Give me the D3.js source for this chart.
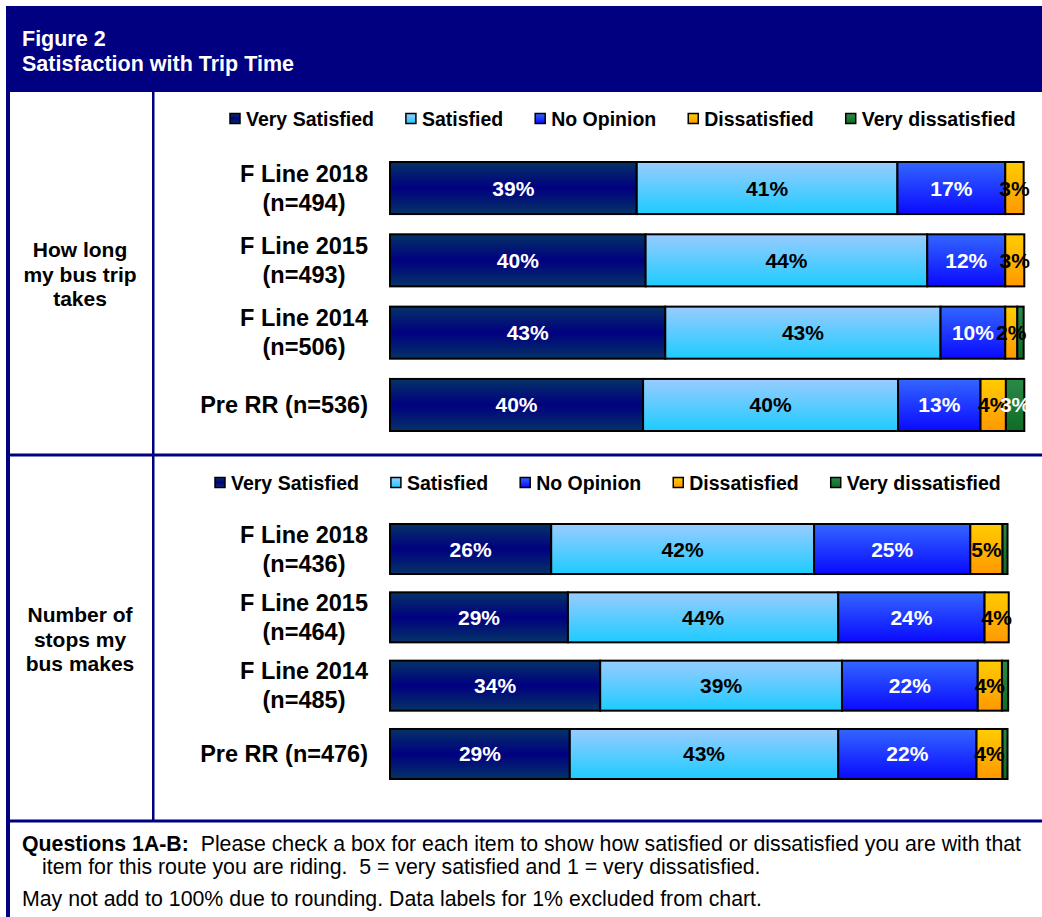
<!DOCTYPE html>
<html>
<head>
<meta charset="utf-8">
<script src="https://cdn.jsdelivr.net/npm/d3@7"></script>
<style>
  body { margin: 0; background: #fff; }
  text { font-family: Arial, "Liberation Sans", sans-serif; }
</style>
</head>
<body>
<script>
var svgWidth = 1042;
var svgHeight = 917;

// series (legend order)
var seriesNames = ["Very Satisfied", "Satisfied", "No Opinion", "Dissatisfied", "Very dissatisfied"];

// panel 1: how long my bus trip takes
var tripRows = [["F Line 2018", "(n=494)"], ["F Line 2015", "(n=493)"], ["F Line 2014", "(n=506)"], ["Pre RR (n=536)"]];
var tripVerySat    = [38.9, 40.3, 43.4, 39.9];
var tripSat        = [41.1, 44.4, 43.4, 40.2];
var tripNoOpinion  = [17.0, 12.3, 10.2, 13.0];
var tripDissat     = [2.9, 3.0, 1.9, 4.0];
var tripVeryDissat = [0, 0, 1.0, 2.9];

// panel 2: number of stops my bus makes
var stopRows = [["F Line 2018", "(n=436)"], ["F Line 2015", "(n=464)"], ["F Line 2014", "(n=485)"], ["Pre RR (n=476)"]];
var stopVerySat    = [26.0, 28.7, 33.9, 29.0];
var stopSat        = [42.4, 43.6, 39.0, 43.3];
var stopNoOpinion  = [25.2, 23.6, 21.9, 22.3];
var stopDissat     = [5.2, 3.9, 3.9, 4.2];
var stopVeryDissat = [0.8, 0, 1.0, 0.8];

var navy = "#000080";

var svg = d3.select("body").append("svg")
    .attr("width", svgWidth)
    .attr("height", svgHeight);

// gradients for the bar fills
var grads = [
  { id: "g0", stops: [["0%", "#053366"], ["50%", "#000080"], ["100%", "#053366"]], label: "#fff" },
  { id: "g1", stops: [["0%", "#99ccff"], ["100%", "#1ecbff"]], label: "#000" },
  { id: "g2", stops: [["0%", "#3366ff"], ["100%", "#0a0aff"]], label: "#fff" },
  { id: "g3", stops: [["0%", "#ffcc00"], ["100%", "#ff9900"]], label: "#000" },
  { id: "g4", stops: [["0%", "#2a8a48"], ["100%", "#0f6b25"]], label: "#fff" }
];
var defs = svg.append("defs");
grads.forEach(function(g){
  var lg = defs.append("linearGradient").attr("id", g.id)
      .attr("x1", 0).attr("y1", 0).attr("x2", 0).attr("y2", 1);
  g.stops.forEach(function(s){
    lg.append("stop").attr("offset", s[0]).attr("stop-color", s[1]);
  });
});

// header band
svg.append("rect").attr("x", 6).attr("y", 6).attr("width", svgWidth - 6).attr("height", 86).attr("fill", navy);
svg.append("text").attr("x", 22).attr("y", 46).attr("fill", "#fff")
   .attr("font-size", "21.5px").attr("font-weight", "bold").text("Figure 2");
svg.append("text").attr("x", 22).attr("y", 71).attr("fill", "#fff")
   .attr("font-size", "21.5px").attr("font-weight", "bold").text("Satisfaction with Trip Time");

// table rules
svg.append("rect").attr("x", 6).attr("y", 6).attr("width", 4).attr("height", svgHeight - 6).attr("fill", navy);
svg.append("rect").attr("x", 152).attr("y", 92).attr("width", 2.5).attr("height", 730).attr("fill", navy);
svg.append("rect").attr("x", 6).attr("y", 453.5).attr("width", svgWidth - 6).attr("height", 3).attr("fill", navy);
svg.append("rect").attr("x", 6).attr("y", 819.5).attr("width", svgWidth - 6).attr("height", 3).attr("fill", navy);

function drawPanel(opts) {
  var rows = opts.rows;
  var table = rows.map(function(r, i){
    return { key: i, vals: opts.series.map(function(s){ return s[i]; }) };
  });

  var xscale = d3.scaleLinear().domain([0, 100]).range([390, opts.xEnd]);
  var yscale = d3.scaleBand().domain(d3.range(rows.length))
      .range(opts.yRange).paddingInner(opts.pad).paddingOuter(0);

  // row-side question label
  var q = svg.append("text").attr("text-anchor", "middle")
     .attr("font-size", "21px").attr("font-weight", "bold");
  opts.question.forEach(function(line, i){
    q.append("tspan").attr("x", 80).attr("y", opts.qTop + i * 24.5).text(line);
  });

  // legend
  var lx = opts.legendX;
  seriesNames.forEach(function(name, i){
    svg.append("rect").attr("x", lx).attr("y", opts.legendY - 5.5)
       .attr("width", 10).attr("height", 10)
       .attr("fill", "url(#" + grads[i].id + ")")
       .attr("stroke", "#000").attr("stroke-width", 1.5);
    var t = svg.append("text").attr("x", lx + 16).attr("y", opts.legendY + 7)
       .attr("font-size", "19.5px").attr("font-weight", "bold").text(name);
    lx += 16 + t.node().getComputedTextLength() + 32;
  });

  // category labels, right-aligned block, lines centred in block
  rows.forEach(function(lines, i){
    var cy = yscale(i) + yscale.bandwidth() / 2;
    var g = svg.append("g");
    var offs = lines.length === 1 ? [0] : [-14.5, 14.5];
    var texts = lines.map(function(line, j){
      return g.append("text").attr("y", cy + offs[j] + 8)
        .attr("font-size", "23.5px").attr("font-weight", "bold")
        .attr("text-anchor", "middle").text(line);
    });
    var maxW = d3.max(texts, function(t){ return t.node().getComputedTextLength(); });
    texts.forEach(function(t){ t.attr("x", 368 - maxW / 2); });
  });

  // stacked bars
  var stack = table.map(function(d){
    var acc = 0;
    return d.vals.map(function(v, s){
      var seg = { row: d.key, s: s, v: v, x0: acc, x1: acc + v };
      acc += v;
      return seg;
    });
  });
  var segs = [].concat.apply([], stack).filter(function(d){ return d.v > 0; });

  svg.append("g").selectAll("rect").data(segs).enter().append("rect")
     .attr("x", function(d){ return xscale(d.x0); })
     .attr("y", function(d){ return yscale(d.row); })
     .attr("width", function(d){ return xscale(d.x1) - xscale(d.x0); })
     .attr("height", yscale.bandwidth())
     .attr("fill", function(d){ return "url(#" + grads[d.s].id + ")"; })
     .attr("stroke", "#000").attr("stroke-width", 2);

  svg.append("g").selectAll("text").data(segs.filter(function(d){ return Math.round(d.v) >= 2; }))
     .enter().append("text")
     .attr("x", function(d){ return (xscale(d.x0) + xscale(d.x1)) / 2; })
     .attr("y", function(d){ return yscale(d.row) + yscale.bandwidth() / 2 + 7.5; })
     .attr("text-anchor", "middle")
     .attr("font-size", "21px").attr("font-weight", "bold")
     .attr("fill", function(d){ return grads[d.s].label; })
     .text(function(d){ return Math.round(d.v) + "%"; });
}

drawPanel({
  rows: tripRows,
  series: [tripVerySat, tripSat, tripNoOpinion, tripDissat, tripVeryDissat],
  question: ["How long", "my bus trip", "takes"],
  qTop: 257,
  legendX: 230, legendY: 119,
  xEnd: 1024.3,
  yRange: [162, 431], pad: 0.28
});

drawPanel({
  rows: stopRows,
  series: [stopVerySat, stopSat, stopNoOpinion, stopDissat, stopVeryDissat],
  question: ["Number of", "stops my", "bus makes"],
  qTop: 622,
  legendX: 215, legendY: 483,
  xEnd: 1010,
  yRange: [524, 779], pad: 0.268
});

// footnotes
var fs = "21.3px";
var f1 = svg.append("text").attr("x", 22).attr("y", 851).attr("font-size", fs);
f1.append("tspan").attr("font-weight", "bold").text("Questions 1A-B:");
f1.append("tspan").text("\u00a0 Please check a box for each item to show how satisfied or dissatisfied you are with that");
svg.append("text").attr("x", 42).attr("y", 874).attr("font-size", fs)
   .text("item for this route you are riding.\u00a0 5 = very satisfied and 1 = very dissatisfied.");
svg.append("text").attr("x", 22).attr("y", 906).attr("font-size", fs)
   .text("May not add to 100% due to rounding. Data labels for 1% excluded from chart.");
</script>
</body>
</html>
